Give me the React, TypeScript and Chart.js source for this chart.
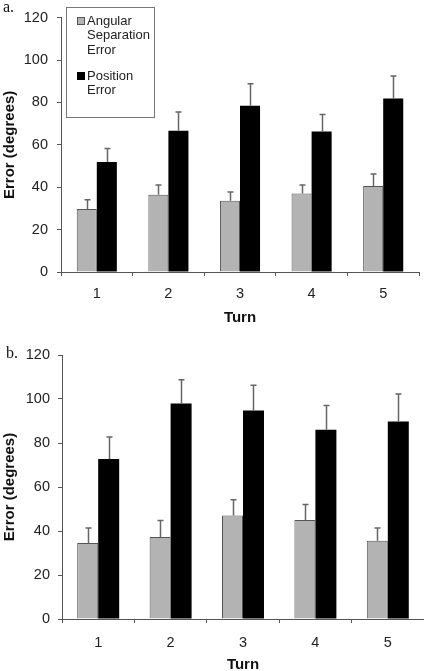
import React, { useEffect, useRef } from "react";
import { Chart, registerables } from "chart.js";

Chart.register(...registerables);

// ---- data ----
const turns = ["1", "2", "3", "4", "5"];
const seriesNames = ["Angular Separation Error", "Position Error"];
const legendLines = [["Angular", "Separation", "Error"], ["Position", "Error"]];
const yTickMin = 0;
const yTickMax = 120;
const yTickStep = 20;

const angularA = [29.7, 36.4, 33.6, 37.0, 40.6];
const angularErrA = [4.4, 4.6, 4.2, 4.0, 5.7];
const positionA = [51.9, 66.7, 78.5, 66.3, 81.9];
const positionErrA = [6.4, 8.8, 10.3, 8.0, 10.6];

const angularB = [34.5, 37.3, 47.0, 45.0, 35.6];
const angularErrB = [6.9, 7.5, 7.2, 7.0, 5.8];
const positionB = [72.7, 97.9, 94.8, 86.0, 89.8];
const positionErrB = [10.0, 10.9, 11.4, 11.1, 12.5];

const FONT = "Arial, 'Liberation Sans', sans-serif";

type PanelProps = {
  panelLabel: string;
  angular: number[];
  angularErr: number[];
  position: number[];
  positionErr: number[];
  showLegend: boolean;
  height: number;
  cfg: {
    padTop: number;
    padRight: number;
    yWidth: number;
    xHeight: number;
    xTickPad: number;
    yTickPad: number;
    xTitlePadBottom: number;
    yTitlePadTop: number;
    barFrac: number;
    labelX: number;
    labelY: number;
  };
};

function Panel(props: PanelProps) {
  const ref = useRef<HTMLCanvasElement | null>(null);
  useEffect(() => {
    if (!ref.current) return;
    const { cfg } = props;
    const errs = [props.angularErr, props.positionErr];

    const errorBars = {
      id: "errorBars",
      afterDatasetsDraw(chart: any) {
        const ctx = chart.ctx;
        const yScale = chart.scales.y;
        ctx.save();
        ctx.strokeStyle = "#666";
        ctx.lineWidth = 1.5;
        chart.data.datasets.forEach((ds: any, i: number) => {
          const meta = chart.getDatasetMeta(i);
          meta.data.forEach((bar: any, j: number) => {
            const top = yScale.getPixelForValue(ds.data[j] + errs[i][j]);
            const x = Math.round(bar.x) + 0.5;
            ctx.beginPath();
            ctx.moveTo(x, bar.y);
            ctx.lineTo(x, top);
            ctx.moveTo(x - 3, top);
            ctx.lineTo(x + 3, top);
            ctx.stroke();
          });
        });
        ctx.restore();
      },
    };

    const decorations = {
      id: "decorations",
      afterDraw(chart: any) {
        const ctx = chart.ctx;
        ctx.save();
        ctx.fillStyle = "#111";
        ctx.font = "16px 'Liberation Serif', 'Times New Roman', serif";
        ctx.textBaseline = "alphabetic";
        ctx.textAlign = "left";
        ctx.fillText(props.panelLabel, cfg.labelX, cfg.labelY);
        if (props.showLegend) {
          ctx.strokeStyle = "#777";
          ctx.lineWidth = 1;
          ctx.fillStyle = "#fff";
          ctx.fillRect(66, 7, 88, 110);
          ctx.strokeRect(66.5, 7.5, 88, 110);
          const colors = ["#b3b3b3", "#000"];
          const starts = [21, 76];
          ctx.font = `13px ${FONT}`;
          ctx.textBaseline = "middle";
          legendLines.forEach((lines, i) => {
            const y0 = starts[i];
            ctx.fillStyle = colors[i];
            ctx.fillRect(77, y0 - 4, 8, 8);
            if (i === 0) {
              ctx.strokeStyle = "#555";
              ctx.strokeRect(77.5, y0 - 3.5, 7, 7);
            }
            ctx.fillStyle = "#222";
            lines.forEach((t, k) => {
              ctx.fillText(t, 87, y0 + k * 14.8);
            });
          });
        }
        ctx.restore();
      },
    };

    const chart = new Chart(ref.current, {
      type: "bar",
      data: {
        labels: turns,
        datasets: [
          {
            label: seriesNames[0],
            data: props.angular,
            backgroundColor: "#b3b3b3",
            borderColor: "#555",
            borderWidth: 1,
            categoryPercentage: cfg.barFrac,
            barPercentage: 1,
          },
          {
            label: seriesNames[1],
            data: props.position,
            backgroundColor: "#000",
            borderColor: "#000",
            borderWidth: 0,
            categoryPercentage: cfg.barFrac,
            barPercentage: 1,
          },
        ],
      },
      options: {
        animation: false,
        responsive: false,
        maintainAspectRatio: false,
        layout: { padding: { top: cfg.padTop, right: cfg.padRight, left: 0, bottom: 0 } },
        plugins: {
          legend: { display: false },
          tooltip: { enabled: false },
        },
        scales: {
          x: {
            grid: {
              display: true,
              drawOnChartArea: false,
              drawTicks: true,
              tickLength: 4,
              color: "#555",
              offset: true,
            },
            border: { display: true, color: "#555", width: 1 },
            ticks: {
              font: { family: FONT, size: 14.5 },
              color: "#222",
              padding: cfg.xTickPad,
              maxRotation: 0,
            },
            title: {
              display: true,
              text: "Turn",
              font: { family: FONT, size: 15, weight: "bold" },
              color: "#111",
              padding: { top: 0, bottom: cfg.xTitlePadBottom },
            },
            afterFit: (s: any) => {
              s.height = cfg.xHeight;
            },
          },
          y: {
            min: yTickMin,
            max: yTickMax,
            ticks: {
              stepSize: yTickStep,
              font: { family: FONT, size: 14.5 },
              color: "#222",
              padding: cfg.yTickPad,
            },
            grid: {
              display: true,
              drawOnChartArea: false,
              drawTicks: true,
              tickLength: 4,
              color: "#555",
            },
            border: { display: true, color: "#555", width: 1 },
            title: {
              display: true,
              text: "Error (degrees)",
              font: { family: FONT, size: 15, weight: "bold" },
              color: "#111",
              padding: { top: cfg.yTitlePadTop, bottom: 0 },
            },
            afterFit: (s: any) => {
              s.width = cfg.yWidth;
            },
          },
        },
      } as any,
      plugins: [errorBars, decorations],
    });
    return () => chart.destroy();
  }, []);
  return (
    <canvas
      ref={ref}
      width={424}
      height={props.height}
      style={{ display: "block", width: 424, height: props.height }}
    />
  );
}

export default function App() {
  return (
    <div
      style={{
        position: "absolute",
        left: 0,
        top: 0,
        width: 424,
        height: 671,
        overflow: "hidden",
        background: "#fff",
      }}
    >
      <div style={{ position: "absolute", left: 0, top: 0 }}>
        <Panel
          panelLabel="a."
          angular={angularA}
          angularErr={angularErrA}
          position={positionA}
          positionErr={positionErrA}
          showLegend={true}
          height={335}
          cfg={{
            padTop: 9,
            padRight: 5,
            yWidth: 61,
            xHeight: 63,
            xTickPad: 9,
            yTickPad: 9,
            xTitlePadBottom: 8,
            yTitlePadTop: 1,
            barFrac: 0.56,
            labelX: 3,
            labelY: 12,
          }}
        />
      </div>
      <div style={{ position: "absolute", left: 0, top: 335 }}>
        <Panel
          panelLabel="b."
          angular={angularB}
          angularErr={angularErrB}
          position={positionB}
          positionErr={positionErrB}
          showLegend={false}
          height={345}
          cfg={{
            padTop: 20,
            padRight: 0,
            yWidth: 62,
            xHeight: 61,
            xTickPad: 11,
            yTickPad: 8,
            xTitlePadBottom: 6,
            yTitlePadTop: 1,
            barFrac: 0.58,
            labelX: 6,
            labelY: 23,
          }}
        />
      </div>
    </div>
  );
}
